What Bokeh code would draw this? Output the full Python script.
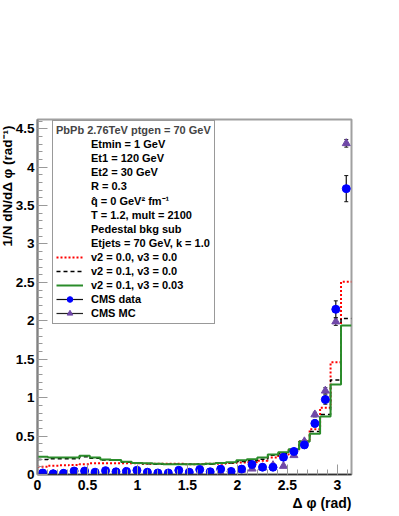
import numpy as np
from bokeh.plotting import figure
from bokeh.models import (Range1d, FixedTicker, CustomJSTickFormatter, Title,
                          Legend, LegendItem, ColumnDataSource)
from bokeh.embed import file_html
from bokeh.resources import INLINE

# ---------------- data (30 bins over 0..pi) ----------------
v2_00_v3_00 = [0.10, 0.115, 0.12, 0.125, 0.135, 0.145, 0.145, 0.145, 0.145, 0.145,
               0.14, 0.14, 0.14, 0.14, 0.135, 0.135, 0.14, 0.14, 0.15, 0.155,
               0.16, 0.18, 0.22, 0.26, 0.325, 0.43, 0.59, 0.87, 1.46, 2.51]
v2_01_v3_00 = [0.195, 0.205, 0.205, 0.205, 0.23, 0.21, 0.19, 0.185, 0.16, 0.15,
               0.14, 0.135, 0.135, 0.135, 0.135, 0.135, 0.135, 0.145, 0.15, 0.17,
               0.18, 0.20, 0.25, 0.27, 0.325, 0.43, 0.56, 0.78, 1.23, 2.03]
v2_01_v3_003 = [0.23, 0.22, 0.22, 0.22, 0.245, 0.22, 0.195, 0.19, 0.165, 0.15,
                0.145, 0.14, 0.135, 0.135, 0.135, 0.135, 0.14, 0.15, 0.16, 0.185,
                0.20, 0.22, 0.26, 0.29, 0.33, 0.43, 0.53, 0.755, 1.17, 1.94]
cms_data = [0.02, 0.01, 0.015, 0.045, 0.045, 0.03, 0.05, 0.035, 0.04, 0.055,
            0.03, 0.02, 0.02, 0.055, 0.03, 0.065, 0.035, 0.07, 0.04, 0.07,
            0.13, 0.095, 0.095, 0.225, 0.30, 0.385, 0.665, 0.975, 2.15, 3.72]
cms_data_err = [0.015, 0.015, 0.015, 0.015, 0.015, 0.015, 0.015, 0.015, 0.015, 0.015,
                0.015, 0.015, 0.015, 0.015, 0.015, 0.015, 0.015, 0.015, 0.015, 0.015,
                0.02, 0.02, 0.02, 0.025, 0.025, 0.03, 0.045, 0.06, 0.11, 0.17]
cms_mc = [0.01, 0.005, 0.01, 0.01, 0.01, 0.01, 0.01, 0.005, 0.005, 0.01,
          0.005, 0.005, 0.005, 0.005, 0.0, 0.01, 0.01, 0.02, 0.03, 0.06,
          0.075, 0.09, 0.12, 0.11, 0.25, 0.43, 0.78, 1.09, 1.99, 4.31]
cms_mc_err = [0.01, 0.01, 0.01, 0.01, 0.01, 0.01, 0.01, 0.01, 0.01, 0.01,
              0.01, 0.01, 0.01, 0.01, 0.01, 0.01, 0.01, 0.01, 0.01, 0.01,
              0.01, 0.01, 0.01, 0.01, 0.015, 0.02, 0.03, 0.04, 0.05, 0.05]

x_ticks = [0, 0.5, 1, 1.5, 2, 2.5, 3]
y_ticks = [0, 0.5, 1, 1.5, 2, 2.5, 3, 3.5, 4, 4.5]

legend_title = "PbPb 2.76TeV ptgen = 70 GeV"
info_lines = ["Etmin = 1 GeV", "Et1 = 120 GeV", "Et2 = 30 GeV", "R = 0.3",
              "q\u0302 = 0 GeV\u00b2 fm\u207b\u00b9", "T = 1.2, mult = 2100",
              "Pedestal bkg sub", "Etjets = 70 GeV, k = 1.0"]
y_title = "1/N dN/d\u0394 \u03c6 (rad\u207b\u00b9)"
x_title = "\u0394 \u03c6 (rad)"

# ---------------- derived geometry ----------------
nb = len(cms_data)
edges = np.linspace(0, np.pi, nb + 1)
centers = 0.5 * (edges[:-1] + edges[1:])

FONT = "Liberation Sans"

p = figure(frame_width=314, frame_height=355,
           x_range=Range1d(0, np.pi), y_range=Range1d(0, 4.62),
           output_backend="svg", toolbar_location=None,
           min_border_left=37, min_border_right=48,
           min_border_top=119, min_border_bottom=42)
p.xgrid.visible = False
p.ygrid.visible = False
p.background_fill_color = "white"
p.border_fill_color = "white"
p.outline_line_color = "#a0a0a0"
p.outline_line_width = 2

fmt = CustomJSTickFormatter(code="return tick.toString();")
p.xaxis.ticker = FixedTicker(ticks=x_ticks, minor_ticks=[round(0.1 * i, 1) for i in range(32)])
p.yaxis.ticker = FixedTicker(ticks=y_ticks, minor_ticks=[round(0.1 * i, 1) for i in range(47)])
for ax in (p.xaxis[0], p.yaxis[0]):
    ax.formatter = fmt
    ax.major_tick_in = 10
    ax.major_tick_out = 0
    ax.minor_tick_in = 5
    ax.minor_tick_out = 0
    ax.major_tick_line_color = "#999999"
    ax.minor_tick_line_color = "#999999"
    ax.major_label_text_font = FONT
    ax.major_label_text_font_style = "bold"
    ax.major_label_text_font_size = "14px"
    ax.major_label_text_color = "black"
p.yaxis.major_label_text_font_size = "13.5px"
p.xaxis.axis_line_color = "#333333"
p.xaxis.axis_line_width = 1.5
p.yaxis.axis_line_color = "#808080"
p.yaxis.axis_line_width = 2
p.xaxis.major_label_standoff = 5
p.yaxis.major_label_standoff = 3

# histograms
def stepped(vals):
    return np.append(np.array(vals), vals[-1])

r_red = p.step(x=edges, y=stepped(v2_00_v3_00), mode="after", line_color="#ff0000",
               line_width=2, line_dash="2 2")
r_blk = p.step(x=edges, y=stepped(v2_01_v3_00), mode="after", line_color="black",
               line_width=1.5, line_dash="4 3")
r_grn = p.step(x=edges, y=stepped(v2_01_v3_003), mode="after", line_color="#2a8c2a",
               line_width=2)

# CMS MC
mc = np.array(cms_mc)
mce = np.array(cms_mc_err)
src_mc = ColumnDataSource(dict(x=centers, y=mc, lo=mc - mce, hi=mc + mce))
r_mc_err = p.segment(x0="x", y0="lo", x1="x", y1="hi", source=src_mc,
                     line_color="#222222", line_width=1.2)
p.scatter(x="x", y="lo", source=src_mc, marker="dash", size=4, line_color="#222222")
p.scatter(x="x", y="hi", source=src_mc, marker="dash", size=4, line_color="#222222")
r_mc = p.scatter(x="x", y="y", source=src_mc, marker="triangle", size=8,
                 fill_color="#7048a8", line_color="#7048a8")

# CMS data
dv = np.array(cms_data)
de = np.array(cms_data_err)
src_d = ColumnDataSource(dict(x=centers, y=dv, lo=dv - de, hi=dv + de))
r_d_err = p.segment(x0="x", y0="lo", x1="x", y1="hi", source=src_d,
                    line_color="#111111", line_width=1.2)
p.scatter(x="x", y="lo", source=src_d, marker="dash", size=4, line_color="#111111")
p.scatter(x="x", y="hi", source=src_d, marker="dash", size=4, line_color="#111111")
r_d = p.scatter(x="x", y="y", source=src_d, marker="circle", size=8,
                fill_color="#0000ff", line_color="#0000ff")

# legend
dummy = p.line(x=[], y=[], line_alpha=0)
items = [LegendItem(label=t, renderers=[dummy]) for t in info_lines]
items += [LegendItem(label="v2 = 0.0, v3 = 0.0", renderers=[r_red]),
          LegendItem(label="v2 = 0.1, v3 = 0.0", renderers=[r_blk]),
          LegendItem(label="v2 = 0.1, v3 = 0.03", renderers=[r_grn]),
          LegendItem(label="CMS data", renderers=[r_d_err, r_d]),
          LegendItem(label="CMS MC", renderers=[r_mc_err, r_mc])]
leg = Legend(items=items, location=(15, 150), margin=0, padding=3,
             title=legend_title, title_text_font=FONT, title_text_font_style="bold",
             title_text_font_size="11px", title_standoff=1,
             label_text_font=FONT, label_text_font_style="bold",
             label_text_font_size="11px", label_text_color="black",
             glyph_width=27, glyph_height=14, label_height=14, spacing=0,
             label_standoff=8, border_line_color="#333333", border_line_width=1,
             background_fill_color="white", background_fill_alpha=1)
p.add_layout(leg)

# axis titles as side-panel titles (right/top aligned like ROOT)
p.add_layout(Title(text=y_title, align="right", offset=6, standoff=-5,
                   text_font=FONT, text_font_style="bold", text_font_size="13.5px",
                   text_color="black"), "left")
p.add_layout(Title(text=x_title, align="right", standoff=0,
                   text_font=FONT, text_font_style="bold", text_font_size="14px",
                   text_color="black"), "below")

open("out.html", "w").write(file_html(p, INLINE))
